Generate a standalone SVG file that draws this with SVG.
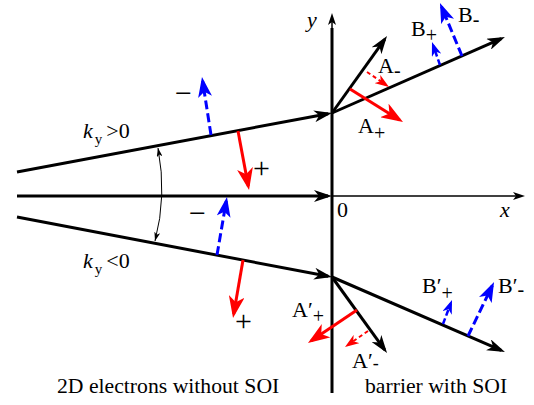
<svg xmlns="http://www.w3.org/2000/svg" width="534" height="405" viewBox="0 0 534 405" font-family="'Liberation Serif', 'DejaVu Serif', serif">
<style>
text{font-family:'Liberation Serif','DejaVu Serif',serif;font-size:22px;fill:#000}
.i{font-style:italic}
.sub{font-size:20px}
.pm{font-size:30px}
.k{stroke:#000;stroke-width:3;fill:none}
.kt{stroke:#000;stroke-width:1.5;fill:none}
.r{stroke:#f00;stroke-width:3;fill:none}
.rd{stroke:#f00;stroke-width:2;fill:none;stroke-dasharray:4 3}
.b{stroke:#00f;stroke-width:3;fill:none;stroke-dasharray:9 4}
.bs{stroke:#00f;stroke-width:2.5;fill:none;stroke-dasharray:6 3}
</style>
<defs>
<marker id="mK" viewBox="0 0 18 12" refX="14" refY="6" markerWidth="18" markerHeight="12" markerUnits="userSpaceOnUse" orient="auto"><path d="M0,0 L18,6 L0,12 L5,6 z" fill="#000"/></marker>
<marker id="mKt" viewBox="0 0 12 8" refX="9" refY="4" markerWidth="12" markerHeight="8" markerUnits="userSpaceOnUse" orient="auto"><path d="M0,0 L12,4 L0,8 L3,4 z" fill="#000"/></marker>
<marker id="mR" viewBox="0 0 22 16" refX="18" refY="8" markerWidth="22" markerHeight="16" markerUnits="userSpaceOnUse" orient="auto"><path d="M0,0 L22,8 L0,16 L6,8 z" fill="#f00"/></marker>
<marker id="mRs" viewBox="0 0 14 10" refX="10" refY="5" markerWidth="14" markerHeight="10" markerUnits="userSpaceOnUse" orient="auto"><path d="M0,0 L14,5 L0,10 L4,5 z" fill="#f00"/></marker>
<marker id="mB" viewBox="0 0 20 14" refX="16" refY="7" markerWidth="20" markerHeight="14" markerUnits="userSpaceOnUse" orient="auto"><path d="M0,0 L20,7 L0,14 L5,7 z" fill="#00f"/></marker>
<marker id="mBs" viewBox="0 0 14 10" refX="10" refY="5" markerWidth="14" markerHeight="10" markerUnits="userSpaceOnUse" orient="auto"><path d="M0,0 L14,5 L0,10 L4,5 z" fill="#00f"/></marker>
<marker id="mA" viewBox="0 0 9 6" refX="9" refY="3" markerWidth="9" markerHeight="6" markerUnits="userSpaceOnUse" orient="auto-start-reverse"><path d="M0,0 L9,3 L0,6 L2.5,3 z" fill="#000"/></marker>
</defs>

<g id="axes">
<line class="k" x1="332" y1="28" x2="332" y2="393"/>
<line class="kt" x1="332" y1="30" x2="332" y2="16" marker-end="url(#mKt)"/>
<line class="kt" x1="332" y1="196" x2="522" y2="196" marker-end="url(#mKt)"/>
<text class="i" x="307" y="27">y</text>
<text class="i" x="500" y="217">x</text>
<text x="337" y="217">0</text>
</g>

<g id="connectors">
<line class="k" x1="17" y1="172" x2="328.1" y2="113.7" marker-end="url(#mK)"/>
<line class="k" x1="17" y1="217" x2="328.1" y2="276.3" marker-end="url(#mK)"/>
<line class="k" x1="17" y1="196" x2="328" y2="196" marker-end="url(#mK)"/>
<line class="k" x1="332" y1="113" x2="501.3" y2="38.6" marker-end="url(#mK)"/>
<line class="k" x1="332" y1="113" x2="384.7" y2="39.3" marker-end="url(#mK)"/>
<line class="k" x1="332" y1="277" x2="501.3" y2="350.4" marker-end="url(#mK)"/>
<line class="k" x1="332" y1="277" x2="384.7" y2="349.8" marker-end="url(#mK)"/>
<path d="M158,148 Q167,196 155,241" stroke="#000" stroke-width="1" fill="none" marker-start="url(#mA)" marker-end="url(#mA)"/>
</g>

<g id="spin-left">
<line class="b" x1="211" y1="135" x2="202.6" y2="81" marker-end="url(#mB)"/>
<line class="r" x1="238" y1="131" x2="248.3" y2="186.1" marker-end="url(#mR)"/>
<line class="b" x1="217" y1="255" x2="226.3" y2="200.9" marker-end="url(#mB)"/>
<line class="r" x1="243" y1="260" x2="233.7" y2="314.1" marker-end="url(#mR)"/>
<text class="pm" x="175" y="103">−</text>
<text class="pm" x="253" y="178">+</text>
<text class="pm" x="189" y="223">−</text>
<text class="pm" x="235" y="331">+</text>
<text x="83" y="138"><tspan class="i">k</tspan><tspan font-size="15" dx="2" dy="6">y</tspan><tspan dx="4" dy="-6">&gt;0</tspan></text>
<text x="83" y="268"><tspan class="i">k</tspan><tspan font-size="15" dx="2" dy="6">y</tspan><tspan dx="4" dy="-6">&lt;0</tspan></text>
</g>

<g id="spin-upper">
<line class="r" x1="350" y1="89" x2="399.6" y2="119.9" marker-end="url(#mR)"/>
<line class="rd" x1="367" y1="72" x2="385.7" y2="84.7" marker-end="url(#mRs)"/>
<line class="bs" x1="440" y1="65" x2="433.3" y2="45.8" marker-end="url(#mBs)"/>
<line class="b" x1="462" y1="56" x2="441.5" y2="6.7" marker-end="url(#mB)"/>
<text x="378" y="73">A<tspan class="sub" dy="4">-</tspan></text>
<text x="358" y="133">A<tspan class="sub" dy="7">+</tspan></text>
<text x="411" y="36">B<tspan class="sub" dy="6">+</tspan></text>
<text x="458" y="22">B<tspan class="sub" dy="4">-</tspan></text>
</g>

<g id="spin-lower">
<line class="r" x1="357" y1="310" x2="311.3" y2="340.8" marker-end="url(#mR)"/>
<line class="rd" x1="368" y1="331" x2="348.3" y2="344.7" marker-end="url(#mRs)"/>
<line class="bs" x1="443" y1="324" x2="450.6" y2="303.7" marker-end="url(#mBs)"/>
<line class="b" x1="468" y1="336" x2="492.3" y2="285.6" marker-end="url(#mB)"/>
<text x="292" y="317">A′<tspan class="sub" dy="6">+</tspan></text>
<text x="352" y="368">A′<tspan style="font-size:18px" dy="1">-</tspan></text>
<text x="422" y="293">B′<tspan class="sub" dy="7">+</tspan></text>
<text x="498" y="293">B′<tspan class="sub" dy="3">-</tspan></text>
</g>

<g id="captions">
<text x="57" y="393" style="font-size:21.7px">2D electrons without SOI</text>
<text x="365" y="393" style="font-size:21.7px">barrier with SOI</text>
</g>
</svg>
